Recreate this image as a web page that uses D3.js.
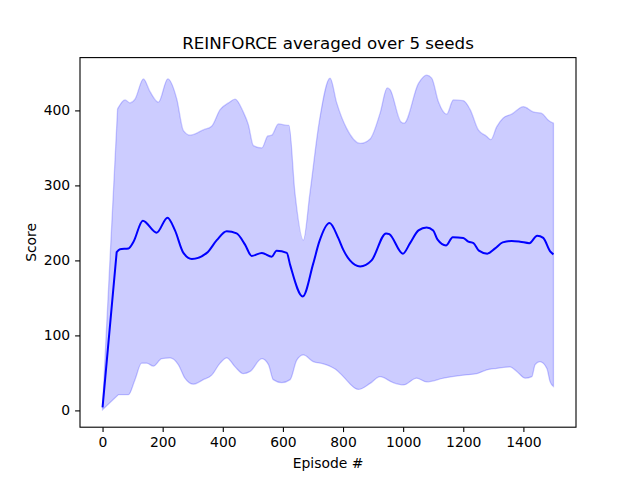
<!DOCTYPE html>
<html>
<head>
<meta charset="utf-8">
<script src="https://cdn.jsdelivr.net/npm/d3@7"></script>
<style>
  body { margin: 0; background: #fff; }
  text { font-family: "DejaVu Sans", sans-serif; fill: #000; }
</style>
</head>
<body>
<div id="chart"></div>
<script>
// mean score over the 5 seeds
const meanEp = [0, 47, 58, 86, 103, 134, 180, 216, 241, 269, 297, 347, 380, 413, 446, 474, 496, 530, 563, 579, 613, 624, 666, 701, 721, 755, 784, 801, 823, 857, 895, 943, 954, 999, 1023, 1051, 1078, 1100, 1114, 1143, 1165, 1200, 1217, 1234, 1252, 1280, 1306, 1331, 1361, 1389, 1420, 1446, 1466, 1489, 1500]
const meanScore = [4, 211, 215, 216, 225, 253, 237, 257, 240, 210, 202, 210, 227, 239, 236, 221, 206, 210, 205, 213, 210, 194, 152, 196, 225, 250, 230, 214, 200, 192, 200, 236, 235, 209, 223, 240, 244, 240, 228, 220, 231, 230, 225, 223, 213, 209, 216, 224, 226, 225, 223, 233, 230, 212, 208]

// upper edge of the band
const upperEp = [0, 50, 75, 91, 108, 136, 158, 186, 217, 247, 269, 291, 335, 363, 391, 419, 441, 468, 485, 502, 530, 550, 563, 585, 615, 620, 640, 668, 690, 721, 757, 779, 812, 857, 890, 923, 947, 956, 992, 1003, 1051, 1078, 1095, 1117, 1145, 1167, 1200, 1223, 1250, 1276, 1292, 1311, 1333, 1361, 1400, 1433, 1461, 1483, 1500]
const upperScore = [4, 402, 414, 410, 415, 442, 425, 411, 442, 415, 373, 367, 374, 379, 401, 410, 415, 398, 381, 353, 350, 366, 367, 382, 380, 380, 290, 227, 290, 385, 443, 410, 376, 356, 362, 396, 430, 428, 385, 383, 436, 447, 443, 412, 395, 414, 413, 401, 374, 366, 361, 378, 390, 395, 405, 398, 396, 387, 383]

// lower edge of the band
const lowerEp = [0, 53, 86, 108, 130, 147, 169, 197, 225, 252, 274, 302, 335, 363, 391, 413, 441, 468, 491, 530, 552, 568, 596, 624, 646, 668, 701, 735, 784, 801, 851, 890, 923, 967, 1001, 1045, 1078, 1134, 1200, 1245, 1278, 1311, 1356, 1378, 1406, 1428, 1439, 1455, 1478, 1489, 1500]
const lowerScore = [1, 21, 21, 41, 63, 63, 59, 69, 70, 61, 43, 35, 41, 47, 63, 70, 58, 49, 52, 69, 61, 41, 37, 41, 67, 74, 65, 62, 52, 45, 28, 36, 45, 37, 34, 43, 38, 43, 47, 49, 54, 56, 58, 52, 43, 45, 61, 65, 56, 38, 32]

const xTicks = [0, 200, 400, 600, 800, 1000, 1200, 1400]
const yTicks = [0, 100, 200, 300, 400]

const width = 640, height = 480
const margin = {left: 80, right: 64, top: 57.6, bottom: 52.8}

const svg = d3.select('#chart')
  .append('svg')
  .attr('width', width)
  .attr('height', height)

const x = d3.scaleLinear()
  .domain([-75, 1575])
  .range([margin.left, width - margin.right])

const y = d3.scaleLinear()
  .domain([-22.4, 470.4])
  .range([height - margin.bottom, margin.top])

const upper = upperEp.map((e, i) => [e, upperScore[i]])
const lower = lowerEp.map((e, i) => [e, lowerScore[i]])
const mean = meanEp.map((e, i) => [e, meanScore[i]])

const smooth = d3.line()
  .x(d => x(d[0]))
  .y(d => y(d[1]))
  .curve(d3.curveMonotoneX)

// first jump from episode 0 is a straight segment, the rest is smoothed
function trace(pts) {
  return 'M' + x(pts[0][0]) + ',' + y(pts[0][1]) + 'L' + smooth(pts.slice(1)).slice(1)
}

// band: upper edge, then lower edge walked backwards
const lowerBack = smooth(lower.slice(1).reverse()).slice(1)
const bandPath = trace(upper) + 'L' + lowerBack + 'L' + x(lower[0][0]) + ',' + y(lower[0][1]) + 'Z'

svg.append('path')
  .attr('d', bandPath)
  .style('fill', 'blue')
  .style('fill-opacity', 0.2)
  .style('stroke', 'blue')
  .style('stroke-opacity', 0.2)
  .style('stroke-width', 1.3)

svg.append('path')
  .attr('d', trace(mean))
  .style('fill', 'none')
  .style('stroke', 'blue')
  .style('stroke-width', 2)
  .style('stroke-linejoin', 'round')

// axes
svg.append('g')
  .attr('transform', `translate(0,${height - margin.bottom})`)
  .call(d3.axisBottom(x).tickValues(xTicks).tickSize(4.9).tickPadding(4.9).tickFormat(d3.format('d')))

svg.append('g')
  .attr('transform', `translate(${margin.left},0)`)
  .call(d3.axisLeft(y).tickValues(yTicks).tickSize(4.9).tickPadding(4.9).tickFormat(d3.format('d')))

svg.selectAll('.domain').remove()
svg.selectAll('.tick line').style('stroke', '#000').style('stroke-width', 1.1)
svg.selectAll('.tick text')
  .style('font-family', '"DejaVu Sans", sans-serif')
  .style('font-size', '13.9px')
  .style('fill', '#000')

// frame
svg.append('rect')
  .attr('x', margin.left)
  .attr('y', margin.top)
  .attr('width', width - margin.left - margin.right)
  .attr('height', height - margin.top - margin.bottom)
  .style('fill', 'none')
  .style('stroke', '#000')
  .style('stroke-width', 1.1)

svg.append('text')
  .attr('x', (margin.left + width - margin.right) / 2)
  .attr('y', 49)
  .attr('text-anchor', 'middle')
  .style('font-size', '16.7px')
  .text('REINFORCE averaged over 5 seeds')

svg.append('text')
  .attr('x', (margin.left + width - margin.right) / 2)
  .attr('y', 468)
  .attr('text-anchor', 'middle')
  .style('font-size', '13.9px')
  .text('Episode #')

svg.append('text')
  .attr('transform', `translate(36,${(margin.top + height - margin.bottom) / 2}) rotate(-90)`)
  .attr('text-anchor', 'middle')
  .style('font-size', '13.9px')
  .text('Score')
</script>
</body>
</html>
